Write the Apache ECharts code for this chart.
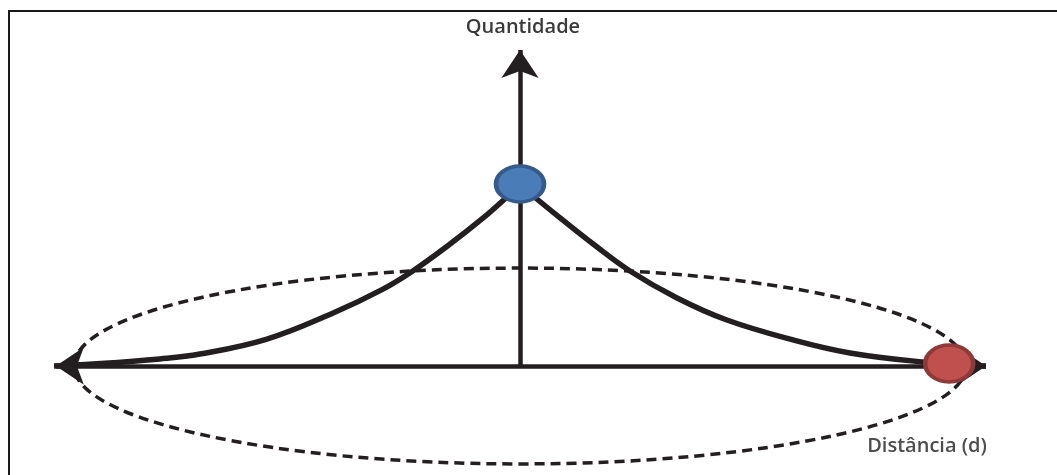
<!DOCTYPE html>
<html>
<head>
<meta charset="utf-8">
<script src="https://cdn.jsdelivr.net/npm/echarts@6/dist/echarts.min.js"></script>
<style>
  html, body { margin: 0; padding: 0; background: #fff; }
  #wrap { position: relative; width: 1057px; height: 475px; overflow: hidden; }
  #frame { position: absolute; left: 8px; top: 10px; width: 1100px; height: 500px;
           border-left: 2px solid #1a1a1a; border-top: 2px solid #1a1a1a; }
  #chart { position: absolute; left: 0; top: 0; width: 1057px; height: 475px; }
</style>
</head>
<body>
<div id="wrap">
  <div id="frame"></div>
  <div id="chart"></div>
</div>
<script>
// eixo: distancia (d) de -10 a 10, quantidade de 0 a ~17.5
var xAxisName = "Distância (d)";
var yAxisName = "Quantidade";

// curva de decaimento (lado esquerdo e direito)
var leftCurve = [
  [-10, 0], [-9.16, 0.11], [-7.73, 0.39], [-6.87, 0.66], [-5.43, 1.49],
  [-4.01, 2.93], [-2.94, 4.25], [-2.3, 5.25], [-1.5, 6.74], [-0.79, 8.18],
  [-0.28, 9.34], [0, 10]
];
var rightCurve = [
  [0, 10], [0.86, 8.18], [1.57, 6.74], [2.36, 5.25], [3.37, 3.76], [4.44, 2.54],
  [5.86, 1.44], [7.08, 0.72], [8.65, 0.22], [10, 0]
];

// pontos: origem (azul) e extremo (vermelho)
var peakPoint = [[0, 10.06]];
var edgePoint = [[9.21, 0.14]];

// elipse tracejada: centro x, centro y, raio x, raio y
var ellipseData = [[0, 0, 9.57, 5.41]];

// extremos dos eixos desenhados (pontas das setas)
var xAxisEnds = [[-9.96, 0], [10.0, 0]];
var yAxisEnds = [[0, 0], [0, 17.46]];

var ink = "#231f20";

var myChart = echarts.init(document.getElementById("chart"));

var option = {
  animation: false,
  grid: { left: 7.4, right: 24.4, top: 22.1, bottom: 0.4 },
  xAxis: { type: "value", min: -11, max: 11, show: false },
  yAxis: { type: "value", min: -6, max: 19, show: false },
  graphic: [
    {
      type: "text", x: 523, y: 27, z: 10,
      style: { text: yAxisName, textAlign: "center", textVerticalAlign: "middle",
               font: "600 20px 'Open Sans'", fill: "#3a3a3a" }
    },
    {
      type: "text", x: 927, y: 446, z: 10,
      style: { text: xAxisName, textAlign: "center", textVerticalAlign: "middle",
               font: "600 20px 'Open Sans'", fill: "#4d4d4d" }
    }
  ],
  series: [
    {
      // elipse
      type: "custom",
      silent: true,
      z: 1,
      data: ellipseData,
      encode: { x: 0, y: 1 },
      renderItem: function (params, api) {
        var c = api.coord([api.value(0), api.value(1)]);
        var s = api.size([api.value(2), api.value(3)]);
        return {
          type: "ellipse",
          shape: { cx: c[0], cy: c[1], rx: s[0], ry: s[1] },
          style: { fill: "none", stroke: ink, lineWidth: 3.5, lineDash: [10, 6] }
        };
      }
    },
    {
      // eixos com setas
      type: "line",
      data: [],
      z: 2,
      markLine: {
        silent: true,
        symbol: ["none", "arrow"],
        symbolSize: 28,
        label: { show: false },
        lineStyle: { color: ink, width: 4.5, type: "solid" },
        data: [
          [{ coord: yAxisEnds[0], symbol: "none" }, { coord: yAxisEnds[1], symbol: "arrow" }],
          [{ coord: xAxisEnds[0], symbol: "arrow" }, { coord: xAxisEnds[1], symbol: "arrow" }]
        ]
      }
    },
    {
      type: "line",
      data: leftCurve,
      smooth: 0.4,
      showSymbol: false,
      silent: true,
      z: 3,
      lineStyle: { color: ink, width: 5.5 }
    },
    {
      type: "line",
      data: rightCurve,
      smooth: 0.4,
      showSymbol: false,
      silent: true,
      z: 3,
      lineStyle: { color: ink, width: 5.5 }
    },
    {
      type: "scatter",
      data: peakPoint,
      symbol: "circle",
      symbolSize: [48, 36],
      z: 5,
      itemStyle: { color: "#4a7cb8", borderColor: "#365a89", borderWidth: 4, opacity: 1 }
    },
    {
      type: "scatter",
      data: edgePoint,
      symbol: "circle",
      symbolSize: [48, 37],
      z: 5,
      itemStyle: { color: "#c0504d", borderColor: "#8e3a38", borderWidth: 4, opacity: 1 }
    }
  ]
};

myChart.setOption(option);
</script>
</body>
</html>
